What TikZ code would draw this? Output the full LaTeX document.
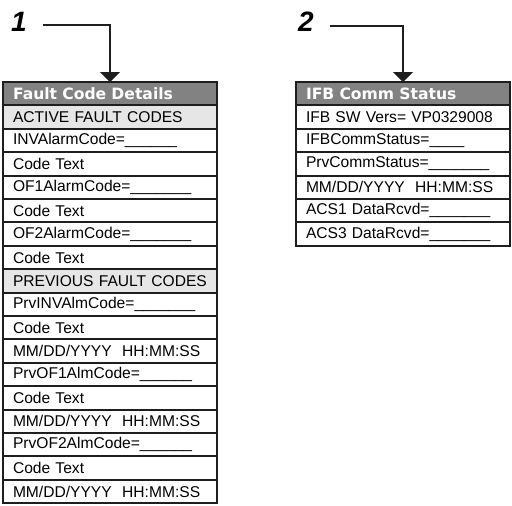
\documentclass[tikz,border=0pt]{standalone}
\usepackage{fontspec}
\setmainfont{Liberation Sans}
\newfontfamily\headfont{DejaVu Sans}
\usetikzlibrary{arrows.meta,positioning}
\definecolor{edge}{HTML}{1E1E1E}
\definecolor{headgray}{HTML}{828282}
\definecolor{secgray}{HTML}{E6E6E6}
\tikzset{
  rowbox/.style={draw=edge, line width=2pt, fill=white, outer sep=0pt,
    minimum width=214pt, minimum height=23.4pt, text width=194pt,
    inner xsep=10pt, inner ysep=0pt, align=left, text=black,
    font=\fontsize{15.6}{18}\selectfont},
  headrow/.style={rowbox, fill=headgray, text=white,
    font=\fontsize{15.6}{18}\headfont\bfseries},
  secrow/.style={rowbox, fill=secgray},
  callout/.style={inner sep=0pt, font=\fontsize{28}{30}\selectfont\bfseries\itshape},
  pointer/.style={draw=edge, line width=1.8pt, -{Triangle[width=20pt,length=10pt]}},
}
\newcommand{\blank}[1]{\foreach \k in {1,...,#1}{\_}}
\begin{document}
\begin{tikzpicture}[x=1pt,y=-1pt]
\useasboundingbox (0,0) rectangle (512,506);

% Fault code details panel
\node[headrow, anchor=north west] (fd0) at (3,82) {Fault Code Details};
\node[secrow, below=0pt of fd0] (fd1) {ACTIVE FAULT CODES};
\node[rowbox, below=0pt of fd1] (fd2) {INVAlarmCode=\blank{6}};
\node[rowbox, below=0pt of fd2] (fd3) {Code Text};
\node[rowbox, below=0pt of fd3] (fd4) {OF1AlarmCode=\blank{7}};
\node[rowbox, below=0pt of fd4] (fd5) {Code Text};
\node[rowbox, below=0pt of fd5] (fd6) {OF2AlarmCode=\blank{7}};
\node[rowbox, below=0pt of fd6] (fd7) {Code Text};
\node[secrow, below=0pt of fd7] (fd8) {PREVIOUS FAULT CODES};
\node[rowbox, below=0pt of fd8] (fd9) {PrvINVAlmCode=\blank{7}};
\node[rowbox, below=0pt of fd9] (fd10) {Code Text};
\node[rowbox, below=0pt of fd10] (fd11) {MM/DD/YYYY\ \ HH:MM:SS};
\node[rowbox, below=0pt of fd11] (fd12) {PrvOF1AlmCode=\blank{6}};
\node[rowbox, below=0pt of fd12] (fd13) {Code Text};
\node[rowbox, below=0pt of fd13] (fd14) {MM/DD/YYYY\ \ HH:MM:SS};
\node[rowbox, below=0pt of fd14] (fd15) {PrvOF2AlmCode=\blank{6}};
\node[rowbox, below=0pt of fd15] (fd16) {Code Text};
\node[rowbox, below=0pt of fd16] (fd17) {MM/DD/YYYY\ \ HH:MM:SS};

% IFB communication status panel
\node[headrow, anchor=north west] (cs0) at (296,82) {IFB Comm Status};
\node[rowbox, below=0pt of cs0] (cs1) {IFB SW Vers= VP0329008};
\node[rowbox, below=0pt of cs1] (cs2) {IFBCommStatus=\blank{4}};
\node[rowbox, below=0pt of cs2] (cs3) {PrvCommStatus=\blank{7}};
\node[rowbox, below=0pt of cs3] (cs4) {MM/DD/YYYY\ \ HH:MM:SS};
\node[rowbox, below=0pt of cs4] (cs5) {ACS1 DataRcvd=\blank{7}};
\node[rowbox, below=0pt of cs5] (cs6) {ACS3 DataRcvd=\blank{7}};

% Callout numbers and pointers
\node[callout] (n1) at (19,22) {1};
\node[callout] (n2) at (306,22) {2};
\draw[pointer] ([xshift=16pt,yshift=-3pt]n1.east) -| (fd0.north);
\draw[pointer] ([xshift=16pt,yshift=-4pt]n2.east) -| (cs0.north);
\end{tikzpicture}
\end{document}
